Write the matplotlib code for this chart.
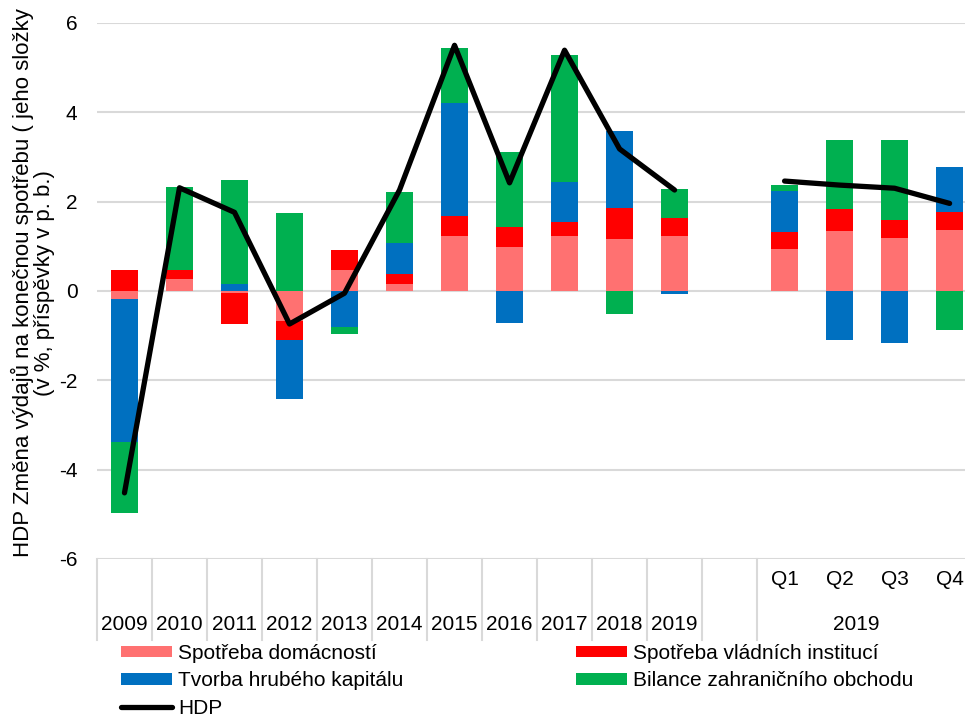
import matplotlib
matplotlib.use("Agg")
import matplotlib.pyplot as plt
import numpy as np

plt.rcParams['font.family'] = ['Liberation Sans', 'DejaVu Sans']
plt.rcParams['axes.unicode_minus'] = False

# categories: years, an empty slot, then quarters of 2019
years = ["2009", "2010", "2011", "2012", "2013", "2014", "2015", "2016",
         "2017", "2018", "2019"]
quarters = ["Q1", "Q2", "Q3", "Q4"]

# contributions (p. b.) -- years then quarters
domacnosti = [-0.18, 0.26, -0.05, -0.68, 0.48, 0.16, 1.23, 0.99, 1.23, 1.16, 1.22,
              0.95, 1.35, 1.19, 1.36]
vladni = [0.48, 0.20, -0.70, -0.42, 0.43, 0.22, 0.44, 0.44, 0.32, 0.69, 0.42,
          0.37, 0.49, 0.40, 0.40]
kapital = [-3.20, 0.00, 0.15, -1.32, -0.80, 0.69, 2.54, -0.72, 0.88, 1.73, -0.06,
           0.92, -1.10, -1.17, 1.02]
bilance = [-1.60, 1.86, 2.34, 1.74, -0.17, 1.15, 1.24, 1.68, 2.85, -0.52, 0.64,
           0.13, 1.55, 1.78, -0.88]
hdp_years = [-4.52, 2.31, 1.76, -0.74, -0.05, 2.26, 5.50, 2.42, 5.39, 3.18, 2.26]
hdp_quarters = [2.46, 2.37, 2.30, 1.96]

labels = ["Spotřeba domácností", "Spotřeba vládních institucí",
          "Tvorba hrubého kapitálu", "Bilance zahraničního obchodu"]
colors = ["#FF7171", "#FF0000", "#0070C0", "#00B050"]

xpos = np.array(list(range(len(years))) + [12, 13, 14, 15])
series = [domacnosti, vladni, kapital, bilance]

fig = plt.figure(figsize=(9.65, 7.17), dpi=100)
ax = fig.add_axes([0.1005, 0.2204, 0.8995, 0.7476])

pos_bottom = np.zeros(len(xpos))
neg_bottom = np.zeros(len(xpos))
handles = []
for vals, col, lab in zip(series, colors, labels):
    vals = np.array(vals)
    pos = np.where(vals > 0, vals, 0)
    neg = np.where(vals < 0, vals, 0)
    h = ax.bar(xpos, pos, 0.5, bottom=pos_bottom, color=col, label=lab, zorder=2)
    ax.bar(xpos, neg, 0.5, bottom=neg_bottom, color=col, zorder=2)
    pos_bottom += pos
    neg_bottom += neg
    handles.append(h)

ln, = ax.plot(range(len(years)), hdp_years, color="black", lw=3.8,
              solid_joinstyle="round", solid_capstyle="round", zorder=3, label="HDP")
ax.plot([12, 13, 14, 15], hdp_quarters, color="black", lw=3.8,
        solid_joinstyle="round", solid_capstyle="round", zorder=3)

ax.set_ylim(-6, 6)
ax.set_xlim(-0.5, 15.28)
ax.set_yticks([-6, -4, -2, 0, 2, 4, 6])
ax.yaxis.grid(True, color="#D9D9D9", lw=1.5, zorder=0)
ax.set_axisbelow(True)
for s in ax.spines.values():
    s.set_visible(False)
ax.set_xticks([])
ax.tick_params(axis="y", length=0, pad=14, labelsize=15)

# category axis below the plot
tr = ax.get_xaxis_transform()
for xb in [-0.5 + i for i in range(13)]:
    ax.plot([xb, xb], [0, -0.151], transform=tr, color="#D9D9D9", lw=1.5,
            clip_on=False)
for i, y in enumerate(years):
    ax.text(i, -0.123, y, transform=tr, ha="center", va="center", fontsize=15)
for i, q in zip([12, 13, 14, 15], quarters):
    ax.text(i, -0.039, q, transform=tr, ha="center", va="center", fontsize=15)
ax.text(13.3, -0.123, "2019", transform=tr, ha="center", va="center", fontsize=15)

fig.text(0.034, 1 - 283 / 717,
         "HDP Změna výdajů na konečnou spotřebu ( jeho složky\n(v %, příspěvky v p. b.)",
         rotation=90, ha="center", va="center", fontsize=16, multialignment="center",
         linespacing=1.0)

leg_handles = [handles[0], handles[2], ln, handles[1], handles[3]]
leg_labels = [labels[0], labels[2], "HDP", labels[1], labels[3]]
fig.legend(leg_handles, leg_labels, ncol=2, loc="upper left",
           bbox_to_anchor=(0.1254, 0.102), bbox_transform=fig.transFigure,
           frameon=False, fontsize=15, handlelength=2.45, handleheight=0.5,
           handletextpad=0.3, columnspacing=8.25, labelspacing=0.4,
           borderaxespad=0, borderpad=0)

fig.savefig("out.png", dpi=100)
